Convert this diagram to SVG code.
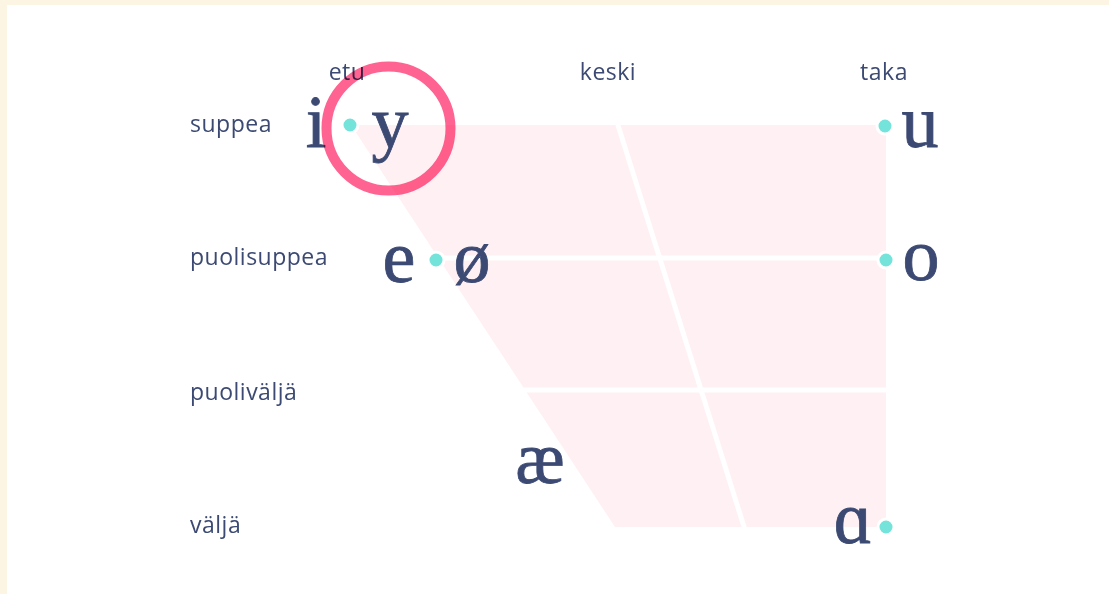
<svg xmlns="http://www.w3.org/2000/svg" width="1109" height="594" viewBox="0 0 1109 594">
<style>
.lbl{font-family:"Open Sans","Noto Sans",sans-serif;font-size:23px;letter-spacing:0.5px;fill:#3c4a73}
.ph{font-family:"Liberation Serif","DejaVu Serif",serif;font-size:74px;fill:#3c4a73;stroke:#3c4a73;stroke-width:0.8;text-anchor:middle}
.dot{fill:#74e3d9;stroke:#ffffff;stroke-width:3}
.gap{stroke:#ffffff;stroke-width:5;fill:none}
</style>
<rect x="0" y="0" width="1109" height="594" fill="#fdf5e4"/>
<rect x="7" y="5" width="1102" height="589" fill="#ffffff"/>
<g id="chart">
<polygon points="351,125 886,125 886,527 615,527" fill="#fff0f3"/>
</g>
<g id="connectors">
<line class="gap" x1="435" y1="258" x2="890" y2="258"/>
<line class="gap" x1="520" y1="390" x2="890" y2="390"/>
<line class="gap" x1="617" y1="122" x2="745" y2="530"/>
</g>
<g id="labels">
<text class="lbl" x="190" y="132">suppea</text>
<text class="lbl" x="190" y="265">puolisuppea</text>
<text class="lbl" x="190" y="400">puoliväljä</text>
<text class="lbl" x="190" y="533">väljä</text>
<text class="lbl" x="347" y="80" text-anchor="middle">etu</text>
<text class="lbl" x="608" y="80" text-anchor="middle">keski</text>
<text class="lbl" x="884" y="80" text-anchor="middle">taka</text>
</g>
<g id="node-i-y">
<text class="ph" x="316" y="147">i</text>
<text class="ph" x="390" y="147">y</text>
<circle class="dot" cx="350" cy="125" r="8"/>
</g>
<g id="node-e-o">
<text class="ph" x="399" y="282">e</text>
<text class="ph" x="472" y="282">ø</text>
<circle class="dot" cx="436" cy="260" r="8"/>
</g>
<g id="node-u">
<text class="ph" x="920" y="147">u</text>
<circle class="dot" cx="885" cy="126" r="8"/>
</g>
<g id="node-o">
<text class="ph" x="921" y="280">o</text>
<circle class="dot" cx="886" cy="260" r="8"/>
</g>
<g id="node-ae">
<text class="ph" x="540" y="483">æ</text>
</g>
<g id="node-a">
<text class="ph" x="853" y="543">ɑ</text>
<circle class="dot" cx="886" cy="527" r="8"/>
</g>
<g id="highlight">
<circle cx="388.5" cy="128.5" r="62" fill="none" stroke="#ff6391" stroke-width="10" style="mix-blend-mode:multiply"/>
</g>
</svg>
